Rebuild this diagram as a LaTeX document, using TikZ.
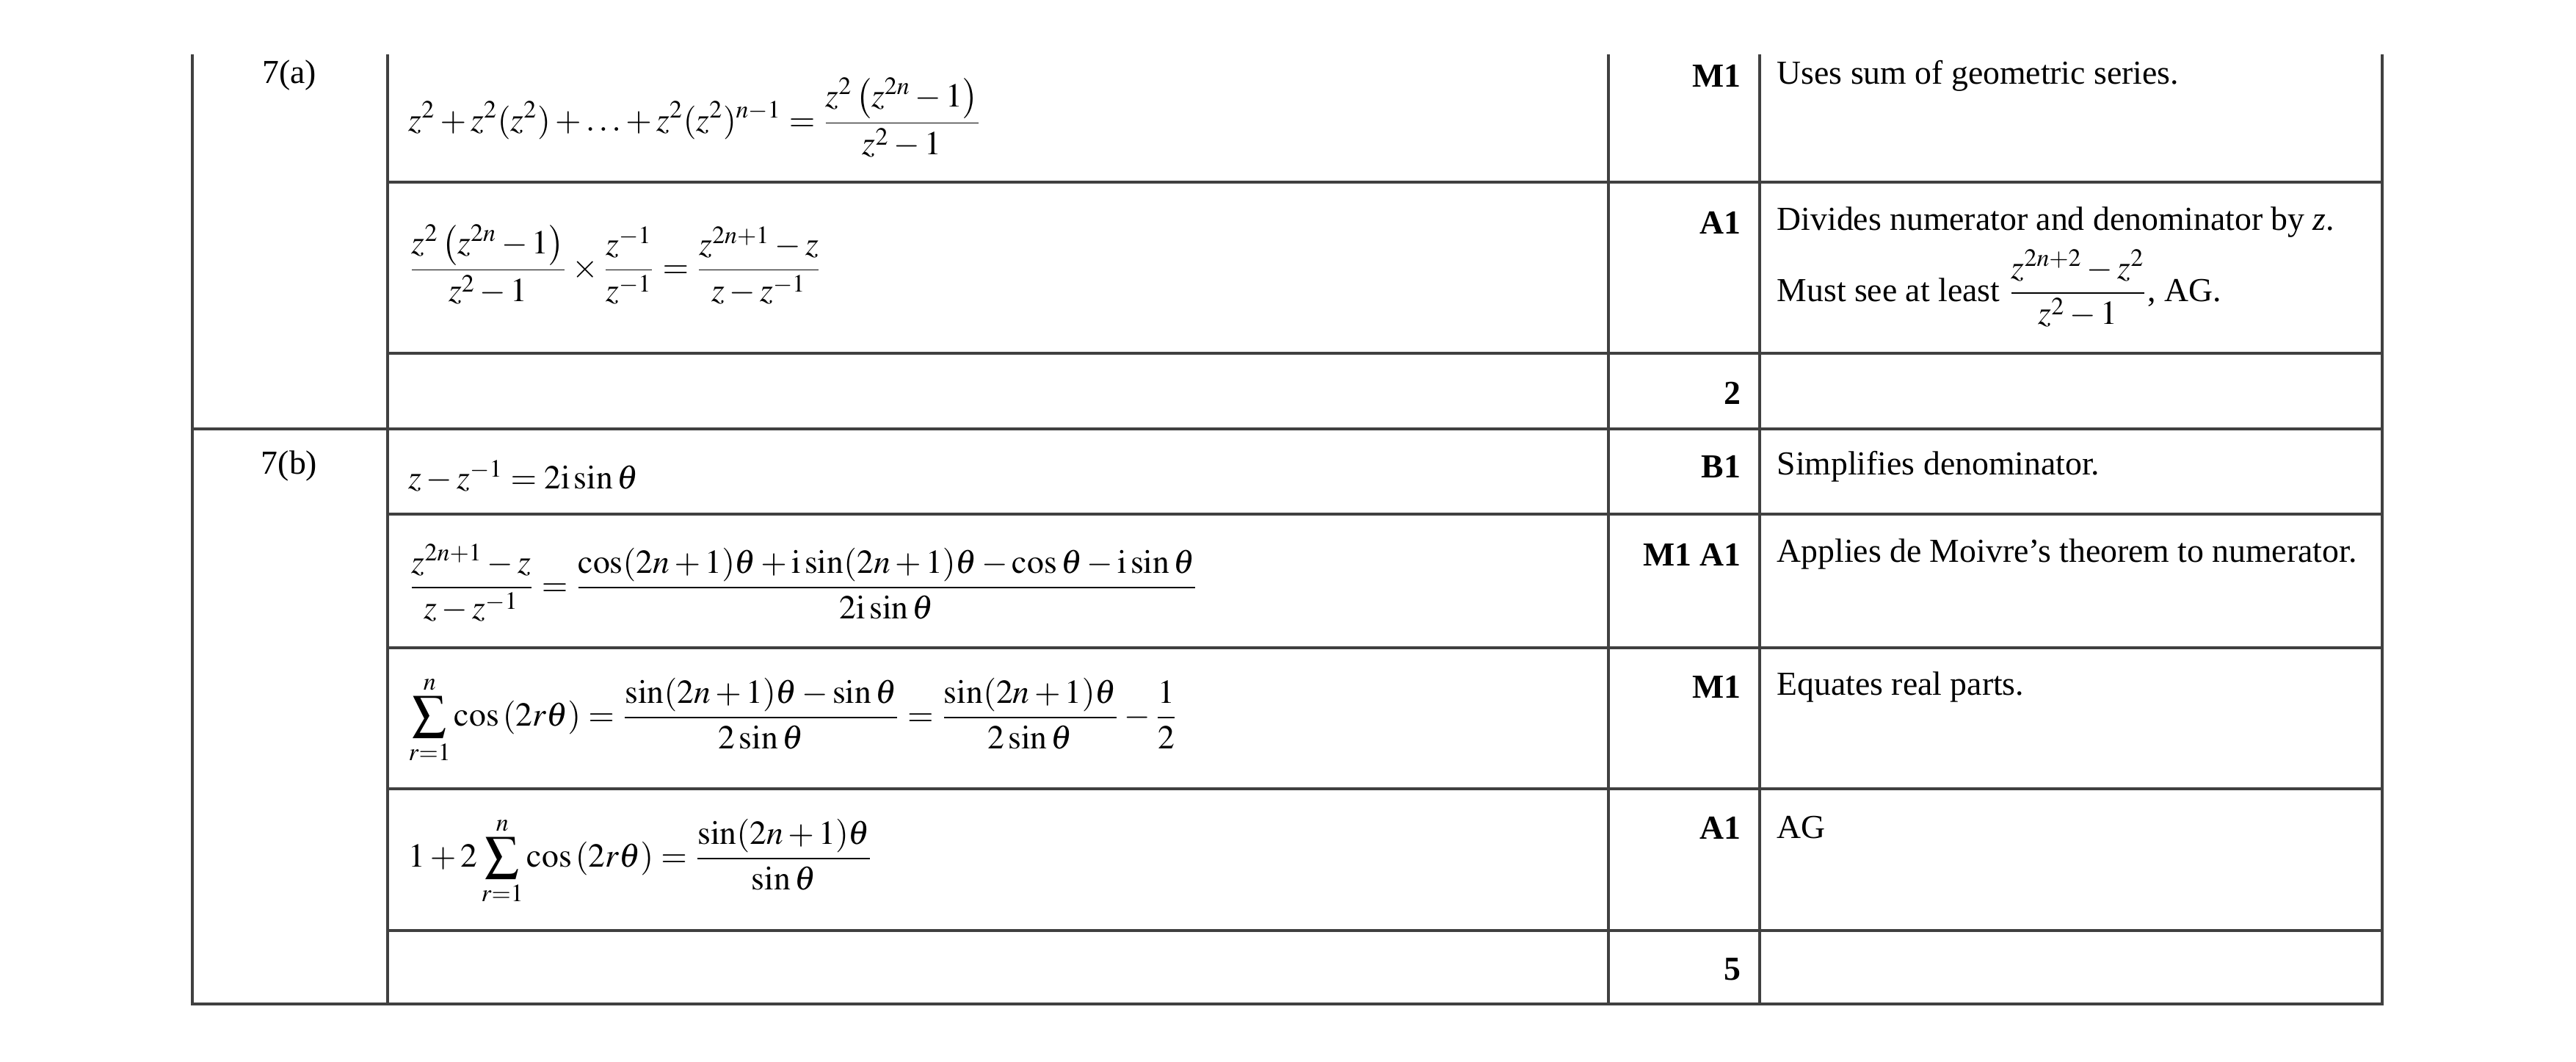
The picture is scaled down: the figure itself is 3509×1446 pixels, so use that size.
\documentclass[tikz,border=0pt]{standalone}
\usepackage{amsmath}
\usepackage{mathptmx}
\usepackage{fontspec}
\setmainfont{Liberation Serif}
\usetikzlibrary{positioning}
\tikzset{
  rule/.style={draw=black!75, line width=1.2pt},
  txt/.style={anchor=west, inner sep=0pt, font=\fontsize{13}{16}\selectfont},
  score/.style={anchor=east, inner sep=0pt, font=\fontsize{13}{16}\selectfont\bfseries},
  qno/.style={anchor=center, inner sep=0pt, font=\fontsize{13}{16}\selectfont},
}
\newcommand{\ii}{\mathrm{i}}
\begin{document}
\begin{tikzpicture}[x=0.01cm,y=-0.01cm]
\useasboundingbox (0,0) rectangle (3509,1446);
% grid
\draw[rule] (262,74) -- (262,1367) -- (3245,1367) -- (3245,74);
\draw[rule] (528,74) -- (528,1367);
\draw[rule] (2191,74) -- (2191,1367);
\draw[rule] (2397,74) -- (2397,1367);
\foreach \y in {248,481,700,882,1074,1267}
  \draw[rule] (528,\y) -- (3245,\y);
\draw[rule] (262,584) -- (3245,584);
% 7(a)
\node[qno] (qa) at (394,103) {7(a)};
\node[txt] (a1) at (556,160) {$\displaystyle z^2+z^2(z^2)+\ldots+z^2(z^2)^{n-1}=\frac{z^2\left(z^{2n}-1\right)}{z^2-1}$};
\node[score] (ma1) at (2372,103) {M1};
\node[txt] (ca1) at (2420,103) {Uses sum of geometric series.};
\node[txt] (a2) at (556,360) {$\displaystyle \frac{z^2\left(z^{2n}-1\right)}{z^2-1}\times\frac{z^{-1}}{z^{-1}}=\frac{z^{2n+1}-z}{z-z^{-1}}$};
\node[score] (ma2) at (2372,303) {A1};
\node[txt] (ca2) at (2420,303) {Divides numerator and denominator by \textit{z}.};
\node[txt] (cb2) at (2420,393) {Must see at least $\displaystyle\frac{z^{2n+2}-z^2}{z^2-1}$, AG.};
\node[score] (ta) at (2372,535) {2};
% 7(b)
\node[qno] (qb) at (394,635) {7(b)};
\node[txt] (b1) at (556,648) {$z-z^{-1}=2\ii\sin\theta$};
\node[score] (mb1) at (2372,635) {B1};
\node[txt] (cb1) at (2420,635) {Simplifies denominator.};
\node[txt] (b2) at (556,794) {$\displaystyle \frac{z^{2n+1}-z}{z-z^{-1}}=\frac{\cos(2n+1)\theta+\ii\sin(2n+1)\theta-\cos\theta-\ii\sin\theta}{2\ii\sin\theta}$};
\node[score] (mb2) at (2372,755) {M1 A1};
\node[txt] (cb3) at (2420,755) {Applies de Moivre’s theorem to numerator.};
\node[txt] (b3) at (556,980) {$\displaystyle \sum_{r=1}^{n}\cos\left(2r\theta\right)=\frac{\sin(2n+1)\theta-\sin\theta}{2\sin\theta}=\frac{\sin(2n+1)\theta}{2\sin\theta}-\frac{1}{2}$};
\node[score] (mb3) at (2372,935) {M1};
\node[txt] (cb4) at (2420,935) {Equates real parts.};
\node[txt] (b4) at (556,1172) {$\displaystyle 1+2\sum_{r=1}^{n}\cos\left(2r\theta\right)=\frac{\sin(2n+1)\theta}{\sin\theta}$};
\node[score] (mb4) at (2372,1127) {A1};
\node[txt] (cb5) at (2420,1127) {AG};
\node[score] (tb) at (2372,1320) {5};
\end{tikzpicture}
\end{document}
